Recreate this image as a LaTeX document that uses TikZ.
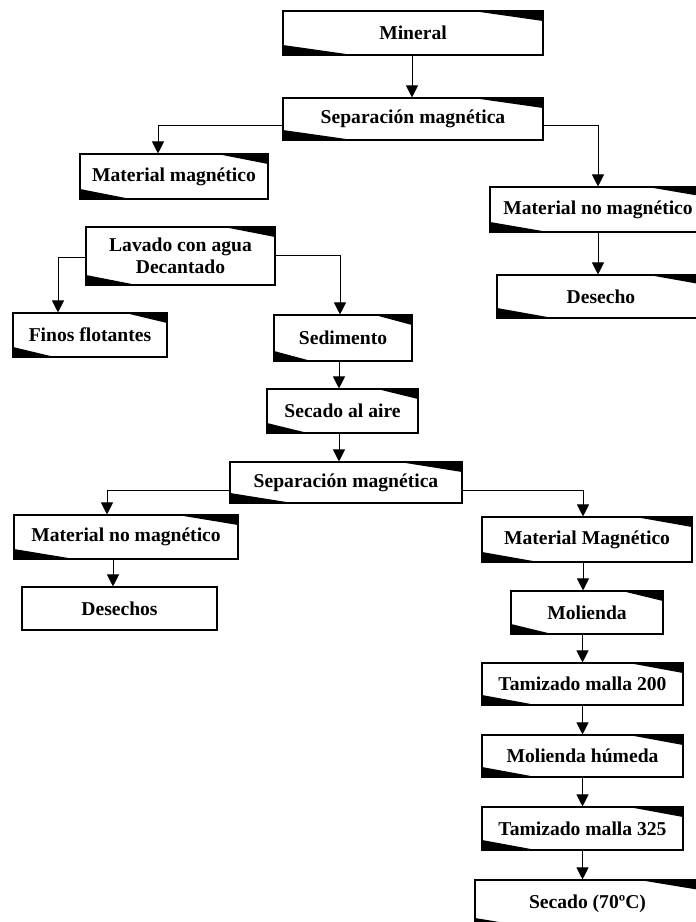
\documentclass[tikz,border=0pt]{standalone}
\usepackage{fontspec}
\setmainfont{Liberation Serif}
\usetikzlibrary{arrows.meta,calc}
\tikzset{
  box/.style={draw, line width=1.1pt, fill=white, inner sep=0pt, align=center,
    font=\fontsize{19.6}{22}\selectfont\bfseries},
  wbox/.style={box, path picture={
      \fill[black] (path picture bounding box.north east) -- ++(0,-10pt)
        -- ($(path picture bounding box.north east)!0.27!(path picture bounding box.north west)$) -- cycle;
      \fill[black] (path picture bounding box.south west) -- ++(0,10pt)
        -- ($(path picture bounding box.south west)!0.27!(path picture bounding box.south east)$) -- cycle;
    }},
  sz/.style 2 args={minimum width=#1pt, minimum height=#2pt},
}
\begin{document}
\begin{tikzpicture}[x=1pt,y=-1pt]
      \useasboundingbox (0,0) rectangle (696,922);
      \clip (0,0) rectangle (696,922);
      \draw
        (413,33) node[wbox,sz={260}{44}] (mineral){Mineral}
        (413,119) node[wbox,sz={260}{42}] (sep1){Separación magnética}
        (174,176.5) node[wbox,sz={188}{45}] (magA){Material magnético}
        (598,209.5) node[wbox,sz={216}{45}] (nomagA){Material no magnético}
        (601,296.5) node[wbox,sz={208}{43}] (desecho){Desecho}
        (180.5,256) node[wbox,sz={189}{58}] (lavado){Lavado con agua\\Decantado}
        (90,335) node[wbox,sz={154}{44}] (finos){Finos flotantes}
        (343,338) node[wbox,sz={138}{46}] (sedimento){Sedimento}
        (342.5,411) node[wbox,sz={151}{44}] (secado1){Secado al aire}
        (346,482.5) node[wbox,sz={232}{41}] (sep2){Separación magnética}
        (126,537) node[wbox,sz={224}{44}] (nomagB){Material no magnético}
        (119.5,608.5) node[box,sz={195}{43}] (desechos){Desechos}
        (587,539.5) node[wbox,sz={210}{45}] (magB){Material Magnético}
        (587,612.5) node[wbox,sz={152}{43}] (molienda){Molienda}
        (582.5,684) node[wbox,sz={201}{42}] (tam200){Tamizado malla 200}
        (582.5,756) node[wbox,sz={201}{42}] (molhum){Molienda húmeda}
        (582.5,828.5) node[wbox,sz={201}{43}] (tam325){Tamizado malla 325}
        (587.5,904) node[wbox,sz={225}{48}] (secado2){Secado (70ºC)};
      \begin{scope}[line width=1pt, -{Triangle[length=12pt,width=12pt]}]
        \draw ([xshift=-1pt]mineral.south) to ([xshift=-1pt]sep1.north);
        \draw ([yshift=-6pt]sep1.west) -| ([xshift=-16pt]magA.north);
        \draw ([yshift=-6pt]sep1.east) -| (nomagA.north);
        \draw (nomagA.south) to (nomagA.south |- desecho.north);
        \draw ([yshift=-1pt]lavado.west) -| ([xshift=-32pt]finos.north);
        \draw ([yshift=1pt]lavado.east) -| ([xshift=-3pt]sedimento.north);
        \draw ([xshift=-4pt]sedimento.south) to ([xshift=-3.5pt]secado1.north);
        \draw ([xshift=-3.5pt]secado1.south) to ([xshift=-7pt]sep2.north);
        \draw ([yshift=-8pt]sep2.west) -| ([xshift=-19pt]nomagB.north);
        \draw ([yshift=-8pt]sep2.east) -| ([xshift=-4pt]magB.north);
        \draw ([xshift=-13pt]nomagB.south) to ([xshift=-6.5pt]desechos.north);
        \draw ([xshift=-4pt]magB.south) to ([xshift=-4pt]molienda.south |- molienda.north);
        \draw (molienda.south -| tam200) to (tam200.north);
        \draw (tam200) to (molhum);
        \draw (molhum) to (tam325);
        \draw (tam325.south) to (tam325.south |- secado2.north);
      \end{scope}
    \end{tikzpicture}
\end{document}
